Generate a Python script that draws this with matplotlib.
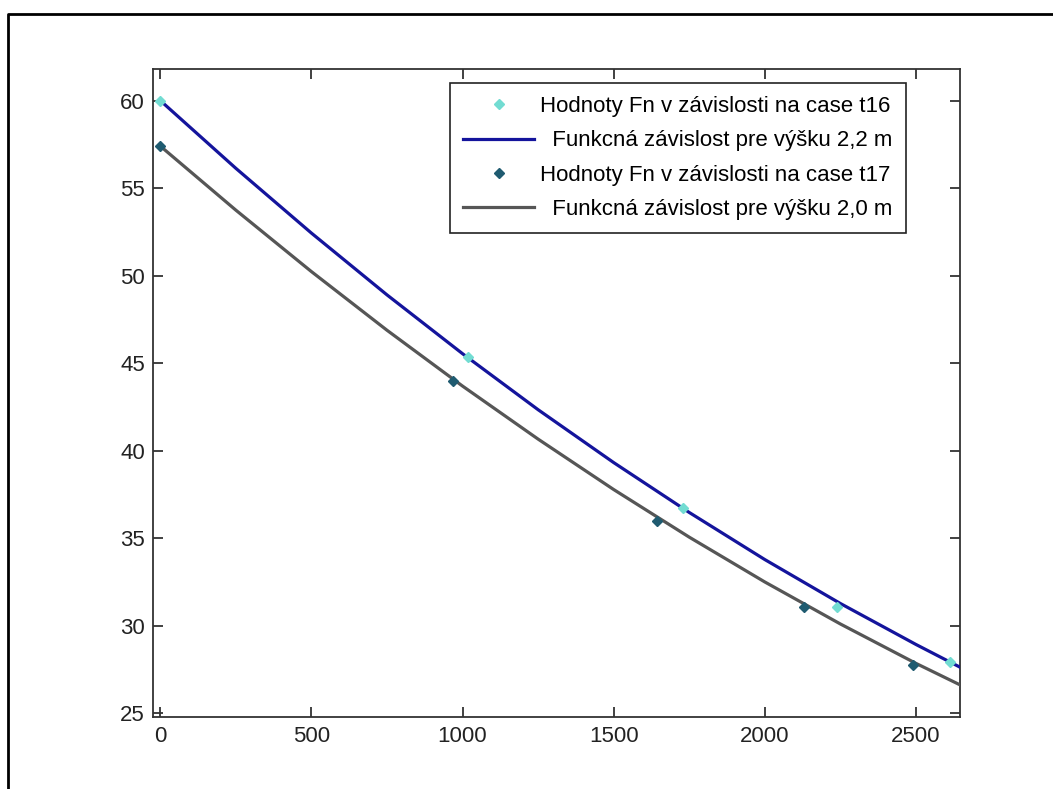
import matplotlib.pyplot as plt
from matplotlib.lines import Line2D

# measured Fn values over time (t16 / t17)
t16_x = [0, 1017, 1729, 2240, 2613]
t16_y = [60.0, 45.34, 36.73, 31.05, 27.9]
t17_x = [0, 968, 1645, 2130, 2492]
t17_y = [57.4, 43.97, 35.96, 31.07, 27.76]

# fitted dependence curves, read at regular steps
curve_x = [0, 250, 500, 750, 1000, 1250, 1500, 1750, 2000, 2250, 2500, 2646]
curve_22 = [60.00, 56.13, 52.43, 48.90, 45.54, 42.34, 39.32, 36.47, 33.78, 31.27, 28.93, 27.63]
curve_20 = [57.40, 53.74, 50.23, 46.88, 43.69, 40.66, 37.78, 35.06, 32.50, 30.10, 27.85, 26.62]

labels = ['Hodnoty Fn v závislosti na case t16',
          '  Funkcná závislost pre výšku 2,2 m',
          'Hodnoty Fn v závislosti na case t17',
          '  Funkcná závislost pre výšku 2,0 m']

plt.rcParams['font.family'] = ['Liberation Sans', 'DejaVu Sans']

fig = plt.figure(figsize=(10.53, 7.89), dpi=100)
fig.patch.set_facecolor('white')
ax = fig.add_axes([0.1456, 0.0916, 0.7661, 0.8209])

ax.plot(t16_x, t16_y, linestyle='none', marker='D', markersize=5,
        color='#72dcd2', zorder=4, label=labels[0])
ax.plot(curve_x, curve_22, color='#14149c', linewidth=2.3, zorder=3, label=labels[1])
ax.plot(t17_x, t17_y, linestyle='none', marker='D', markersize=5,
        color='#1f5b70', zorder=4, label=labels[2])
ax.plot(curve_x, curve_20, color='#565656', linewidth=2.3, zorder=3, label=labels[3])

ax.set_xlim(-23, 2646)
ax.set_ylim(24.8, 61.8)
ax.set_xticks([0, 500, 1000, 1500, 2000, 2500])
ax.set_yticks([25, 30, 35, 40, 45, 50, 55, 60])

for s in ax.spines.values():
    s.set_color('#333333')
    s.set_linewidth(1.3)
ax.tick_params(direction='in', length=7, width=1.3, color='#333333',
               top=True, right=True, labelsize=16, labelcolor='#222222')
ax.tick_params(axis='y', pad=6)
ax.tick_params(axis='x', pad=7)

leg = ax.legend(loc='upper right', bbox_to_anchor=(0.9327, 0.9789),
                borderaxespad=0, fontsize=16, handlelength=3.2,
                handletextpad=0.25, labelspacing=0.6, borderpad=0.6,
                fancybox=False, framealpha=1, edgecolor='#222222')
leg.get_frame().set_linewidth(1.2)

# outer frame along the top and left edges
fig.add_artist(Line2D([8 / 1053, 8 / 1053, 1.0], [0.0, 1 - 14 / 789, 1 - 14 / 789],
                      transform=fig.transFigure, color='black', linewidth=2))

fig.savefig('out.png', dpi=100, facecolor='white')
